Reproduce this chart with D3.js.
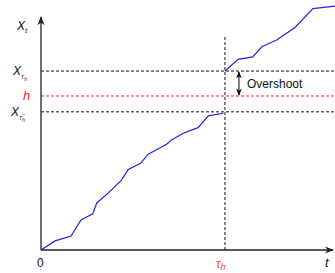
<!DOCTYPE html>
<html>
<head>
<meta charset="utf-8">
<script src="https://cdn.jsdelivr.net/npm/d3@7"></script>
<style>
  body { margin: 0; background: #fff; }
  svg { display: block; font-family: "Liberation Sans", Arial, sans-serif; }
</style>
</head>
<body>
<div id="chart"></div>
<script>
'use strict';

// path before the crossing time (t, X)
var tBefore = [0, 4.8, 10.3, 13.7, 17.7, 19.1, 22.6, 27.4, 29.9, 34.1, 36.7, 43.0, 44.7, 48.7, 53.8, 57.3, 62.4];
var xBefore = [0, 3.9, 6.0, 12.9, 15.5, 20.2, 24.0, 29.8, 34.6, 37.2, 41.1, 45.4, 47.2, 50.1, 52.5, 57.6, 58.7];
// path after the jump
var tAfter = [63.0, 67.5, 72.5, 75.6, 80.7, 87.0, 93.1, 100.7];
var xAfter = [76.8, 81.8, 82.9, 87.2, 90.1, 95.5, 103.6, 104.7];

var levelXtau = 76.8, levelH = 66.1, levelXminus = 59.3;
var tau = 63.0, tauLineTop = 91.4;

var w = 335, h = 273;
var x = d3.scaleLinear().domain([0, 100]).range([41, 333]);
var y = d3.scaleLinear().domain([0, 100]).range([250, 17]);

var svg = d3.select('#chart').append('svg')
    .attr('width', w)
    .attr('height', h);

var defs = svg.append('defs');
defs.append('marker')
    .attr('id', 'axarrow')
    .attr('viewBox', '0 0 10 10')
    .attr('refX', 9).attr('refY', 5)
    .attr('markerWidth', 9).attr('markerHeight', 9)
    .attr('markerUnits', 'userSpaceOnUse')
    .attr('orient', 'auto')
  .append('path')
    .attr('d', 'M0,1 L10,5 L0,9 L3,5 Z')
    .attr('fill', '#222');
defs.append('marker')
    .attr('id', 'dbl')
    .attr('viewBox', '0 0 10 10')
    .attr('refX', 9).attr('refY', 5)
    .attr('markerWidth', 7).attr('markerHeight', 7)
    .attr('markerUnits', 'userSpaceOnUse')
    .attr('orient', 'auto-start-reverse')
  .append('path')
    .attr('d', 'M0,1 L10,5 L0,9 L3,5 Z')
    .attr('fill', '#000');

// horizontal reference levels
var levels = [
  { v: levelXtau, c: '#111' },
  { v: levelH, c: '#f22' },
  { v: levelXminus, c: '#111' }
];
svg.selectAll('line.level')
    .data(levels)
  .enter().append('line')
    .attr('class', 'level')
    .attr('x1', x(0)).attr('x2', w)
    .attr('y1', function (d) { return y(d.v); })
    .attr('y2', function (d) { return y(d.v); })
    .attr('stroke', function (d) { return d.c; })
    .attr('stroke-width', 1)
    .attr('stroke-dasharray', '3,2');

// vertical line at tau
svg.append('line')
    .attr('x1', x(tau)).attr('x2', x(tau))
    .attr('y1', y(tauLineTop)).attr('y2', y(0))
    .attr('stroke', '#111')
    .attr('stroke-dasharray', '3,2');

// the path
var line = d3.line()
    .x(function (d) { return x(d[0]); })
    .y(function (d) { return y(d[1]); });
[d3.zip(tBefore, xBefore), d3.zip(tAfter, xAfter)].forEach(function (seg) {
  svg.append('path')
      .datum(seg)
      .attr('d', line)
      .attr('fill', 'none')
      .attr('stroke', '#2222ee')
      .attr('stroke-width', 1.2);
});

// axes
svg.append('line')
    .attr('x1', x(0)).attr('y1', y(0))
    .attr('x2', x(100)).attr('y2', y(0))
    .attr('stroke', '#222').attr('stroke-width', 1.3)
    .attr('marker-end', 'url(#axarrow)');
svg.append('line')
    .attr('x1', x(0)).attr('y1', y(0))
    .attr('x2', x(0)).attr('y2', y(100))
    .attr('stroke', '#222').attr('stroke-width', 1.3)
    .attr('marker-end', 'url(#axarrow)');

// overshoot arrow
var ax = x(tau) + 14;
svg.append('line')
    .attr('x1', ax).attr('x2', ax)
    .attr('y1', y(levelXtau) + 1).attr('y2', y(levelH) - 1)
    .attr('stroke', '#000')
    .attr('marker-start', 'url(#dbl)')
    .attr('marker-end', 'url(#dbl)');
svg.append('text')
    .attr('x', ax + 8).attr('y', (y(levelXtau) + y(levelH)) / 2 + 4)
    .style('font-size', '12px')
    .attr('fill', '#111')
    .text('Overshoot');

// y labels
var lab = svg.append('g').style('font-style', 'italic').style('font-size', '12px').attr('fill', '#111');
var t1 = lab.append('text').attr('x', 17).attr('y', 30);
t1.append('tspan').text('X');
t1.append('tspan').attr('dy', 3).style('font-size', '8px').text('t');

var t2 = lab.append('text').attr('x', 13).attr('y', y(levelXtau) + 4);
t2.append('tspan').text('X');
t2.append('tspan').attr('dy', 4).style('font-size', '8px').attr('fill', '#555').text('\u03c4');
t2.append('tspan').attr('dy', 2).style('font-size', '6px').attr('fill', '#555').text('h');

lab.append('text').attr('x', 23).attr('y', y(levelH) + 4)
    .attr('fill', '#f22').style('font-size', '13px').text('h');

var t3 = lab.append('text').attr('x', 11).attr('y', y(levelXminus) + 4);
t3.append('tspan').text('X');
t3.append('tspan').attr('dy', 4).style('font-size', '8px').attr('fill', '#555').text('\u03c4');
t3.append('tspan').attr('dy', 2).style('font-size', '6px').attr('fill', '#555').text('h');
t3.append('tspan').attr('dy', -6).attr('dx', -3).style('font-size', '6px').attr('fill', '#555').text('\u2212');

// x labels
svg.append('text').attr('x', x(0) - 4).attr('y', 267).style('font-size', '12px').attr('fill', '#111').text('0');
var t4 = svg.append('text').attr('x', x(tau) - 9).attr('y', 268)
    .attr('fill', '#f44').style('font-style', 'italic').style('font-size', '12px');
t4.append('tspan').text('\u03c4');
t4.append('tspan').attr('dy', 2).style('font-size', '9px').text('h');
svg.append('text').attr('x', 325).attr('y', 267)
    .style('font-style', 'italic').style('font-size', '13px').attr('fill', '#111').text('t');
</script>
</body>
</html>
